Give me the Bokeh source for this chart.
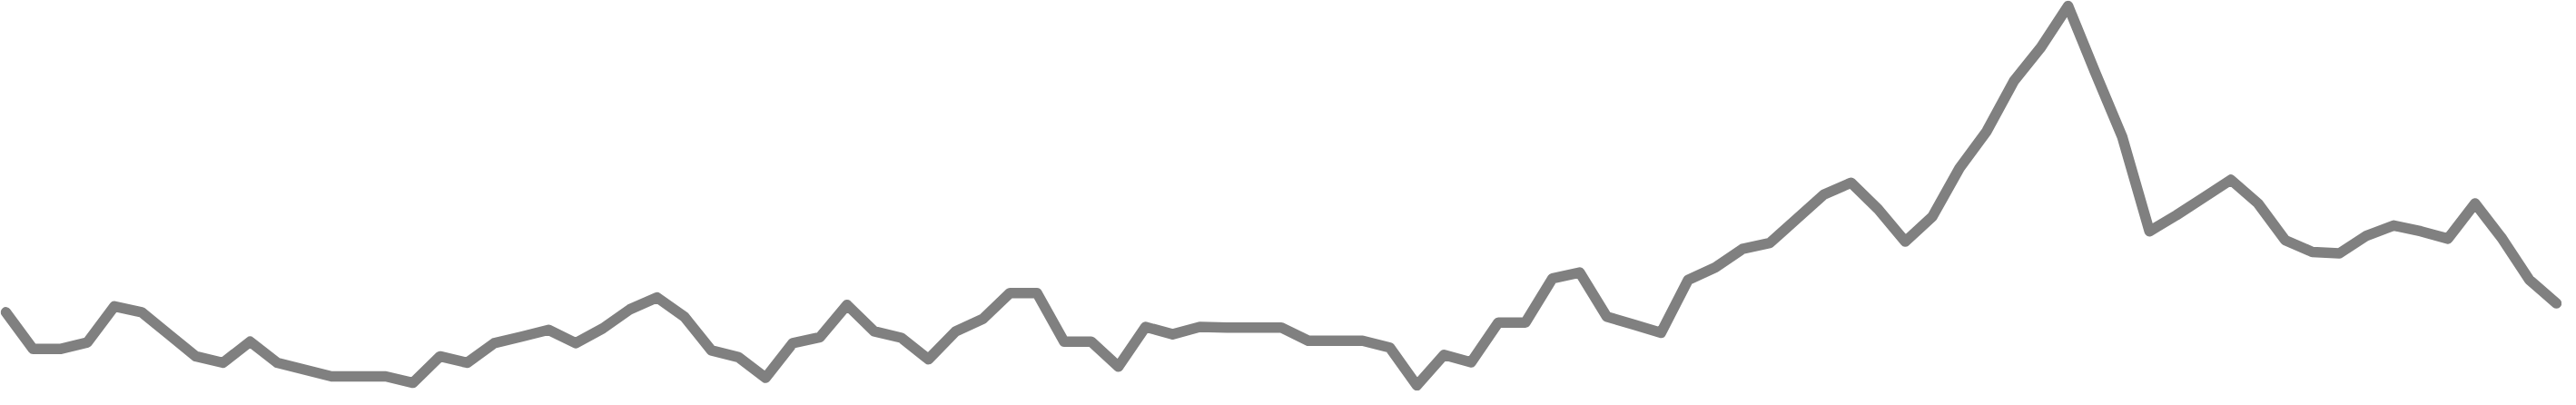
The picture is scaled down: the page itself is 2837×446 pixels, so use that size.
from bokeh.plotting import figure
from bokeh.models import Range1d, ColumnDataSource
from bokeh.embed import file_html
from bokeh.resources import INLINE

# Series values (one point per period)
periods = list(range(95))
values = [
    91, 49.3, 49.3, 56.7, 97.7, 91, 66, 41, 33.7, 57.7,
    33.7, 26, 18.3, 18.3, 18.3, 11, 41, 33.7, 56, 63.3,
    71, 56, 72.7, 94.3, 107.7, 86, 47.7, 40, 16.7, 56,
    62.7, 99.3, 69.3, 62, 37.7, 69.3, 83.3, 112.7, 112.7, 57.7,
    57.7, 29.3, 74.3, 66, 74.3, 73.7, 73.7, 73.7, 58.7, 58.7,
    58.7, 51, 8, 42.7, 34.3, 79.3, 79.3, 129.3, 136, 86,
    77, 67.7, 127.7, 141.7, 162.7, 169.3, 196.7, 224.3, 237.7, 207.7,
    171, 199.3, 254.3, 296, 352.7, 391, 438, 362.7, 289.3, 182.7,
    201, 221, 241, 214.3, 172.7, 159.3, 157.7, 177.7, 189.3, 182.7,
    174.3, 214.3, 174.3, 127.7, 101,
]

source = ColumnDataSource(data=dict(x=periods, y=values))

p = figure(
    width=2821, height=430,
    output_backend="svg", toolbar_location=None,
    x_axis_type=None, y_axis_type=None,
    x_range=Range1d(-0.2008, 94.2008),
    y_range=Range1d(1.83, 444.2),
    min_border=0,
)
p.grid.visible = False
p.outline_line_color = None
p.background_fill_color = "white"
p.border_fill_color = "white"

p.line("x", "y", source=source, line_color="#808080", line_width=11.5,
       line_join="round", line_cap="round")

open("out.html", "w").write(file_html(p, INLINE))
